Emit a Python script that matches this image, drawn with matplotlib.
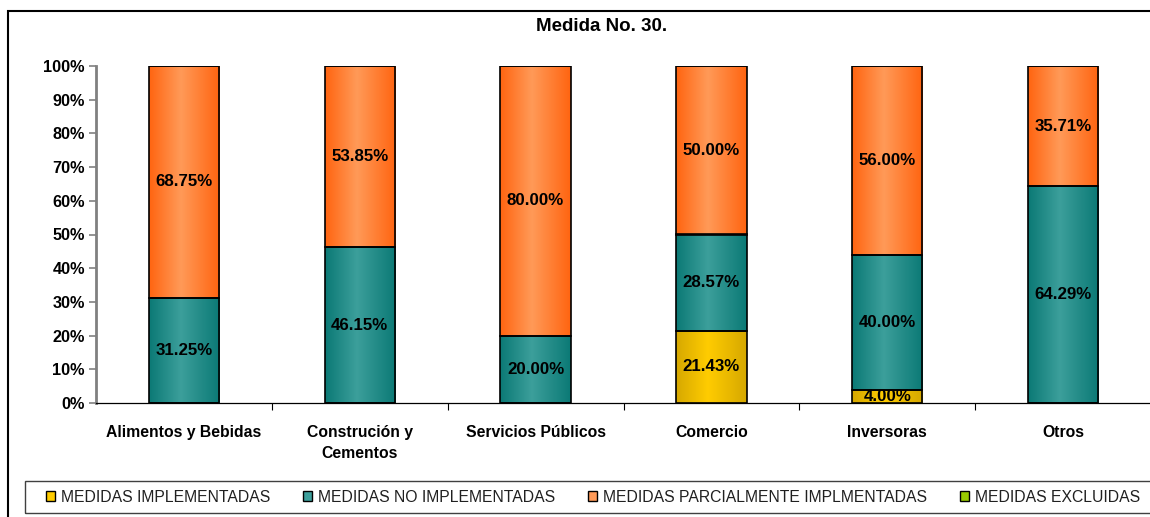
import numpy
from matplotlib import pyplot
from matplotlib.colors import LinearSegmentedColormap
from matplotlib.patches import Patch, Rectangle


# chart data (percentages)
categories = ['Alimentos y Bebidas', 'Construción y\nCementos',
              'Servicios Públicos', 'Comercio', 'Inversoras', 'Otros']
series_names = ['MEDIDAS IMPLEMENTADAS', 'MEDIDAS NO IMPLEMENTADAS',
                'MEDIDAS PARCIALMENTE IMPLMENTADAS', 'MEDIDAS EXCLUIDAS']
implementadas = [0.0, 0.0, 0.0, 21.43, 4.00, 0.0]
no_implementadas = [31.25, 46.15, 20.00, 28.57, 40.00, 64.29]
parcialmente = [68.75, 53.85, 80.00, 50.00, 56.00, 35.71]
excluidas = [0.0, 0.0, 0.0, 0.0, 0.0, 0.0]
y_ticks = [0, 10, 20, 30, 40, 50, 60, 70, 80, 90, 100]
title = 'Medida No. 30.'

# (dark edge, light center) for the gradient fill of each series
colors = [('#D6A800', '#FFCC00'),
          ('#0B7975', '#3C9F9B'),
          ('#FF6410', '#FF9A58'),
          ('#7FAA00', '#99CC00')]

pyplot.rcParams['font.family'] = ['Liberation Sans', 'DejaVu Sans']


def gradient_fill(ax, bars, dark, light):
  """Paints a horizontal dark-light-dark gradient inside each bar."""
  cmap = LinearSegmentedColormap.from_list(
      'grad', [(0.0, dark), (0.45, light), (1.0, dark)])
  ramp = numpy.linspace(0.0, 1.0, 256).reshape(1, -1)
  for bar in bars:
    if bar.get_height() <= 0:
      continue
    x0, y0 = bar.get_x(), bar.get_y()
    x1, y1 = x0 + bar.get_width(), y0 + bar.get_height()
    ax.imshow(ramp, cmap=cmap, extent=(x0, x1, y0, y1),
              aspect='auto', interpolation='bicubic', zorder=2)


def main():
  fig = pyplot.figure(figsize=(11.5, 5.17), dpi=100)
  ax = fig.add_axes([96/1150, 114/517, 1055/1150, 337/517])

  x = numpy.arange(len(categories))
  width = 0.4
  values = [implementadas, no_implementadas, parcialmente, excluidas]
  bottom = numpy.zeros(len(categories))
  for vals, (dark, light) in zip(values, colors):
    vals = numpy.array(vals)
    bars = ax.bar(x, vals, width, bottom=bottom, facecolor='none',
                  edgecolor='black', linewidth=1.2, zorder=3)
    gradient_fill(ax, bars, dark, light)
    for xi, b, v in zip(x, bottom, vals):
      if v > 0:
        ax.text(xi, b + v/2, '{:.2f}%'.format(v), ha='center', va='center',
                fontsize=12.2, fontweight='bold', color='black', zorder=4)
    bottom = bottom + vals

  ax.set_xlim(-0.5, len(categories) - 0.5)
  ax.set_ylim(0, 100)
  ax.set_yticks(y_ticks)
  ax.set_yticklabels(['{}%'.format(t) for t in y_ticks],
                     fontsize=11.7, fontweight='bold')
  ax.tick_params(axis='y', length=5, width=1.2, color='#808080', pad=3)
  ax.set_xticks(x)
  ax.set_xticklabels(categories, fontsize=11.3, fontweight='bold',
                     linespacing=1.45)
  ax.tick_params(axis='x', length=0, pad=16)
  ax.set_xticks(numpy.arange(0.5, len(categories) - 0.5), minor=True)
  ax.tick_params(axis='x', which='minor', length=5, width=0.8,
                 color='black')
  for side in ['top', 'right']:
    ax.spines[side].set_visible(False)
  ax.spines['left'].set_color('#808080')
  ax.spines['left'].set_linewidth(2)
  ax.spines['bottom'].set_color('black')
  ax.spines['bottom'].set_linewidth(0.9)

  fig.text(602/1150, 1 - 27/517, title, ha='center', va='center',
           fontsize=13.5, fontweight='bold')

  # outer chart frame (only left and top edges fall inside the image)
  fig.patches.append(Rectangle((8/1150, -0.1), 1.2, 1.1 - 11/517,
                               transform=fig.transFigure, fill=False,
                               edgecolor='black', linewidth=1.5))
  # legend frame
  fig.patches.append(Rectangle((25/1150, 1 - 513/517), 1.2, 32/517,
                               transform=fig.transFigure, fill=False,
                               edgecolor='#404040', linewidth=1.0))
  handles = [Patch(facecolor=light, edgecolor='black', linewidth=1.0)
             for dark, light in colors]
  fig.legend(handles, series_names, loc='center left', ncol=4,
             bbox_to_anchor=(38/1150, 1 - 497/517), frameon=False,
             fontsize=11.3, handlelength=0.6, handleheight=0.6,
             handletextpad=0.35, columnspacing=2.1, borderpad=0,
             labelcolor='#202020')

  fig.savefig('out.png', dpi=100)


if __name__ == '__main__':
  main()
